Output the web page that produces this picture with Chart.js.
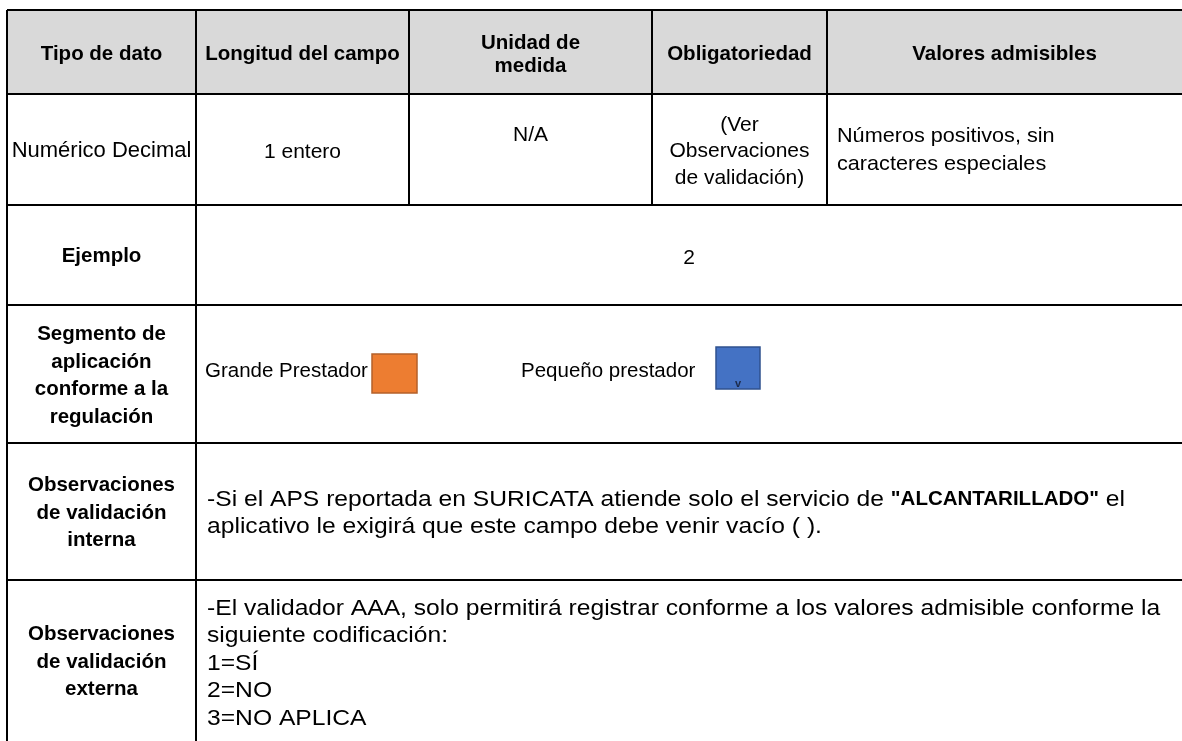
<!DOCTYPE html>
<html>
<head>
<meta charset="utf-8">
<script src="https://cdn.jsdelivr.net/npm/chart.js@4.4.1/dist/chart.umd.min.js"></script>
<style>
  html, body { margin: 0; padding: 0; background: #fff; }
  #wrap { width: 1182px; height: 741px; }
</style>
</head>
<body>
<div id="wrap"><canvas id="fieldTable"></canvas></div>
<script>
// table content
const headers = ['Tipo de dato', 'Longitud del campo', ['Unidad de', 'medida'], 'Obligatoriedad', 'Valores admisibles'];
const fieldValues = ['Numérico Decimal', '1 entero', 'N/A', ['(Ver', 'Observaciones', 'de validación)'], ['Números positivos, sin', 'caracteres especiales']];
const rowLabels = ['Ejemplo', ['Segmento de', 'aplicación', 'conforme a la', 'regulación'], ['Observaciones', 'de validación', 'interna'], ['Observaciones', 'de validación', 'externa']];
const exampleValue = '2';
const segmentLabels = ['Grande Prestador', 'Pequeño prestador'];
const internalNote = [
  [['-Si el APS reportada en SURICATA atiende solo el servicio de ', false], ['"ALCANTARILLADO"', true], [' el', false]],
  [['aplicativo le exigirá que este campo debe venir vacío ( ).', false]]
];
const externalNote = ['-El validador AAA, solo permitirá registrar conforme a los valores admisible conforme la', 'siguiente codificación:', '1=SÍ', '2=NO', '3=NO APLICA'];

// layout (page units, mapped through the chart scales)
const colEdges = [7, 196, 409, 652, 827, 1182];
const rowEdges = [10, 94, 205, 305, 443, 580, 741];
const FONT = '"Liberation Sans", Arial, sans-serif';
const BOLD = 20.5;
const LINE = 27.5;

const tablePlugin = {
  id: 'fieldTable',
  afterDraw(chart) {
    const { ctx, scales: { x, y } } = chart;
    const X = v => x.getPixelForValue(v);
    const Y = v => y.getPixelForValue(v);
    const right = colEdges[colEdges.length - 1];
    const bottom = rowEdges[rowEdges.length - 1];

    ctx.save();
    // header background
    ctx.fillStyle = '#d9d9d9';
    ctx.fillRect(X(colEdges[0]), Y(rowEdges[0]), X(right) - X(colEdges[0]), Y(rowEdges[1]) - Y(rowEdges[0]));

    // grid lines
    ctx.strokeStyle = '#000';
    ctx.lineWidth = 2;
    ctx.beginPath();
    for (let i = 0; i < rowEdges.length - 1; i++) {
      ctx.moveTo(X(colEdges[0]), Y(rowEdges[i]));
      ctx.lineTo(X(right), Y(rowEdges[i]));
    }
    ctx.moveTo(X(colEdges[0]), Y(rowEdges[0]));
    ctx.lineTo(X(colEdges[0]), Y(bottom));
    ctx.moveTo(X(colEdges[1]), Y(rowEdges[0]));
    ctx.lineTo(X(colEdges[1]), Y(bottom));
    for (let c = 2; c < colEdges.length - 1; c++) {
      ctx.moveTo(X(colEdges[c]), Y(rowEdges[0]));
      ctx.lineTo(X(colEdges[c]), Y(rowEdges[2]));
    }
    ctx.stroke();

    ctx.fillStyle = '#000';
    ctx.textBaseline = 'alphabetic';
    const mid = (a, b) => (a + b) / 2;

    // one text run; size in px, sx = horizontal stretch; returns drawn width
    function run(t, px, py, size, bold, align, sx) {
      sx = sx || 1;
      ctx.font = (bold ? 'bold ' : '') + size + 'px ' + FONT;
      const w = ctx.measureText(t).width * sx;
      let left = X(px);
      if (align === 'center') left -= w / 2;
      ctx.save();
      ctx.translate(left, Y(py) + size * 0.358);
      ctx.scale(sx, 1);
      ctx.textAlign = 'left';
      ctx.fillText(t, 0, 0);
      ctx.restore();
      return w;
    }
    // lines centred on a cap-centre y
    function block(lines, px, cy, size, bold, align, step, sx) {
      lines = Array.isArray(lines) ? lines : [lines];
      step = step || LINE;
      const top = cy - (lines.length - 1) * step / 2;
      lines.forEach((t, i) => run(t, px, top + i * step, size, bold, align, sx));
    }

    // header row
    headers.forEach((h, i) => {
      block(h, mid(colEdges[i], colEdges[i + 1]), mid(rowEdges[0], rowEdges[1]) + 1, BOLD, true, 'center', 23.5);
    });

    // first data row
    const r1 = mid(rowEdges[1], rowEdges[2]);
    block(fieldValues[0], mid(colEdges[0], colEdges[1]), r1, 22, false, 'center');
    block(fieldValues[1], mid(colEdges[1], colEdges[2]), r1 + 1, 21, false, 'center');
    block(fieldValues[2], mid(colEdges[2], colEdges[3]), r1 - 16, 21, false, 'center');
    block(fieldValues[3], mid(colEdges[3], colEdges[4]), r1, 21, false, 'center', 26.5);
    block(fieldValues[4], colEdges[4] + 10, r1 - 1, 21, false, 'left', 27.5, 1.03);

    // left labels of lower rows
    rowLabels.forEach((l, i) => {
      block(l, mid(colEdges[0], colEdges[1]), mid(rowEdges[i + 2], rowEdges[i + 3]), BOLD, true, 'center');
    });

    // example value
    block(exampleValue, mid(colEdges[1], right), mid(rowEdges[2], rowEdges[3]) + 1, 21, false, 'center');

    // segment row
    const sy = mid(rowEdges[3], rowEdges[4]) - 4;
    run(segmentLabels[0], colEdges[1] + 9, sy, 20.5, false, 'left');
    run(segmentLabels[1], colEdges[1] + 325, sy, 20.5, false, 'left');
    const box = (x0, y0, x1, y1, fill, edge) => {
      ctx.fillStyle = fill;
      ctx.fillRect(X(x0), Y(y0), X(x1) - X(x0), Y(y1) - Y(y0));
      ctx.strokeStyle = edge;
      ctx.lineWidth = 1.5;
      ctx.strokeRect(X(x0), Y(y0), X(x1) - X(x0), Y(y1) - Y(y0));
    };
    box(372, 354, 417, 393, '#ed7d31', '#b4602a');
    box(716, 347, 760, 389, '#4472c4', '#2f528f');
    ctx.fillStyle = '#1c2a4a';
    ctx.font = 'bold 11px ' + FONT;
    ctx.textAlign = 'center';
    ctx.fillText('v', X(738), Y(387));
    ctx.fillStyle = '#000';

    // internal validation note (mixed bold)
    const ny = mid(rowEdges[4], rowEdges[5]) - (internalNote.length - 1) * 27 / 2;
    internalNote.forEach((parts, i) => {
      let px = colEdges[1] + 11;
      parts.forEach(([t, b]) => {
        const w = b ? run(t, px, ny + i * 27, BOLD, true, 'left')
                    : run(t, px, ny + i * 27, 22, false, 'left', 1.12);
        px += w;
      });
    });

    // external validation note
    externalNote.forEach((t, i) => {
      run(t, colEdges[1] + 11, 607 + i * LINE, 22, false, 'left', 1.12);
    });
    ctx.restore();
  }
};

new Chart(document.getElementById('fieldTable').getContext('2d'), {
  type: 'scatter',
  data: { datasets: [] },
  options: {
    responsive: true,
    maintainAspectRatio: false,
    animation: false,
    layout: { padding: 0 },
    plugins: { legend: { display: false }, tooltip: { enabled: false } },
    scales: {
      x: { type: 'linear', min: 0, max: 1182, display: false },
      y: { type: 'linear', min: 0, max: 741, reverse: true, display: false }
    }
  },
  plugins: [tablePlugin]
});
</script>
</body>
</html>
